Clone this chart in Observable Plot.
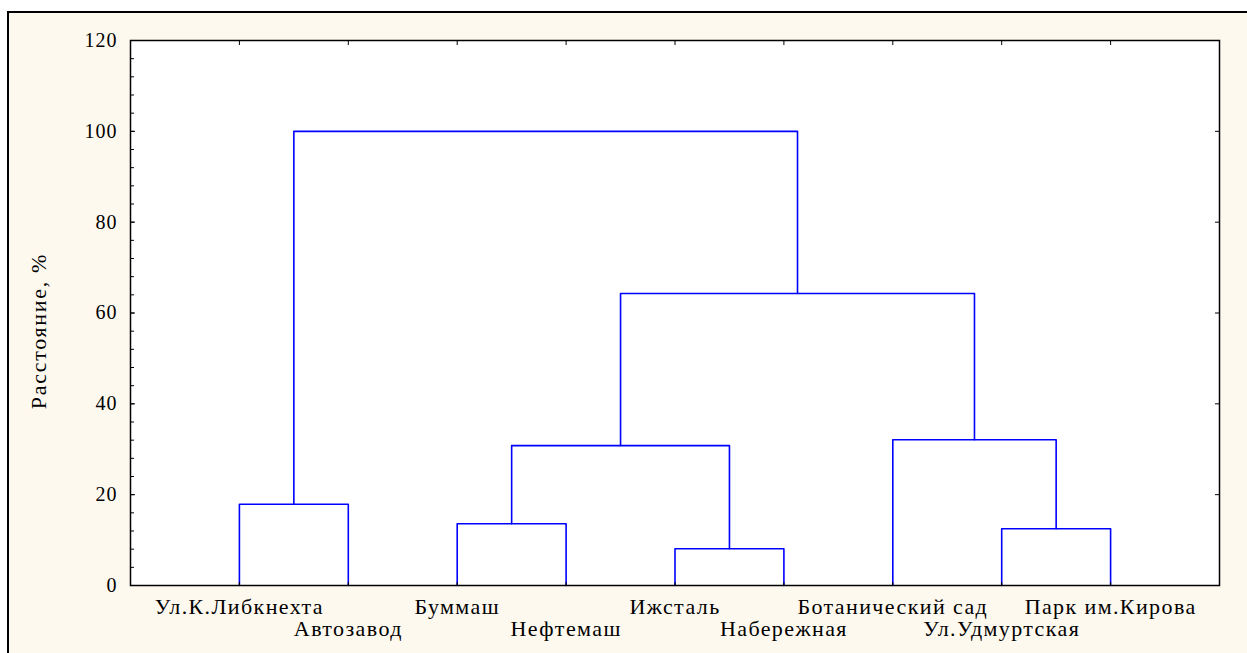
<!DOCTYPE html>
<html><head><meta charset="utf-8">
<script src="https://cdn.jsdelivr.net/npm/d3@7"></script>
<script src="https://cdn.jsdelivr.net/npm/@observablehq/plot@0.6"></script>
<style>
html,body{margin:0;padding:0;background:#fff;}
#wrap{position:relative;width:1247px;height:653px;overflow:hidden;background:#fff;}
#panel{position:absolute;left:7px;top:11px;width:1260px;height:660px;background:#fef9ef;border-left:2px solid #000;border-top:2px solid #000;}
#chart{position:absolute;left:0;top:0;}
#chart g[aria-label="x-axis tick label"] text{font-size:22px;letter-spacing:1.4px;}
#chart g[aria-label="y-axis tick label"] text{font-size:20px;letter-spacing:1px;}
#chart g.ylabel text{font-size:22px;letter-spacing:1.7px;}
</style>
</head><body>
<div id="wrap"><div id="panel"></div><div id="chart"></div></div>
<script>
// Leaves in dendrogram order
const leaves = ["Ул.К.Либкнехта","Автозавод","Буммаш","Нефтемаш","Ижсталь","Набережная","Ботанический сад","Ул.Удмуртская","Парк им.Кирова"];
// Linkage: cluster ids 0..8 are leaves, 9.. are merges (in order)
const mergeLeft   = [0, 2, 4, 10, 7, 6, 12, 9];
const mergeRight  = [1, 3, 5, 11, 8, 13, 14, 15];
const mergeHeight = [17.9, 13.6, 8.1, 30.8, 12.5, 32.1, 64.3, 100];
const yMajorTicks = [0, 20, 40, 60, 80, 100, 120];
const yLabel = "Расстояние, %";

// Build cluster positions
const cx = leaves.map((d, i) => i + 1);
const ch = leaves.map(() => 0);
mergeLeft.forEach((l, k) => {
  const r = mergeRight[k];
  cx.push((cx[l] + cx[r]) / 2);
  ch.push(mergeHeight[k]);
});
const segs = [];
mergeLeft.forEach((l, k) => {
  const r = mergeRight[k], h = mergeHeight[k];
  segs.push({id: k, x: cx[l], y: ch[l]});
  segs.push({id: k, x: cx[l], y: h});
  segs.push({id: k, x: cx[r], y: h});
  segs.push({id: k, x: cx[r], y: ch[r]});
});
const leafX = leaves.map((d, i) => i + 1);
const minorTicks = d3.range(0, 121, 4);
const font = "'Liberation Serif', 'Times New Roman', serif";

const chart = Plot.plot({
  width: 1247,
  height: 653,
  marginLeft: 130,
  marginRight: 28,
  marginTop: 40,
  marginBottom: 68,
  style: {background: "transparent", fontFamily: font, fontSize: "20px", color: "#000"},
  x: {domain: [0, leaves.length + 1], axis: null},
  y: {domain: [0, 120], axis: null},
  marks: [
    Plot.frame({fill: "white", stroke: null}),
    Plot.line(segs, {x: "x", y: "y", z: "id", stroke: "#0000ff", strokeWidth: 1.6, curve: "linear"}),
    // left axis: minor + major ticks (inward) and labels
    Plot.axisY({ticks: minorTicks, tickSize: -4, tickFormat: () => "", label: null, stroke: "#000"}),
    Plot.axisY({ticks: yMajorTicks, tickSize: -5, tickPadding: 18, stroke: "#000", label: null}),
    // y-axis title
    Plot.text([yLabel], {text: d => d, frameAnchor: "left", rotate: -90, dx: -92, dy: 18,
      textAnchor: "middle", lineAnchor: "middle", fill: "#000", className: "ylabel"}),
    // right axis ticks
    Plot.axisY({anchor: "right", ticks: yMajorTicks, tickSize: -5, tickFormat: () => "", label: null, stroke: "#000"}),
    // top axis ticks at leaves
    Plot.axisX({anchor: "top", ticks: leafX, tickSize: -4, tickFormat: () => "", label: null, stroke: "#000"}),
    // bottom labels: two staggered rows
    Plot.axisX({anchor: "bottom", ticks: leafX.filter((d, i) => i % 2 === 0), tickSize: -3, tickPadding: 15.4,
      tickFormat: d => leaves[d - 1], label: null, stroke: "#000"}),
    Plot.axisX({anchor: "bottom", ticks: leafX.filter((d, i) => i % 2 === 1), tickSize: -3, tickPadding: 37.4,
      tickFormat: d => leaves[d - 1], label: null, stroke: "#000"}),
    Plot.frame({stroke: "#000", strokeWidth: 1.5})
  ]
});
document.getElementById("chart").appendChild(chart);
</script>
</body></html>
